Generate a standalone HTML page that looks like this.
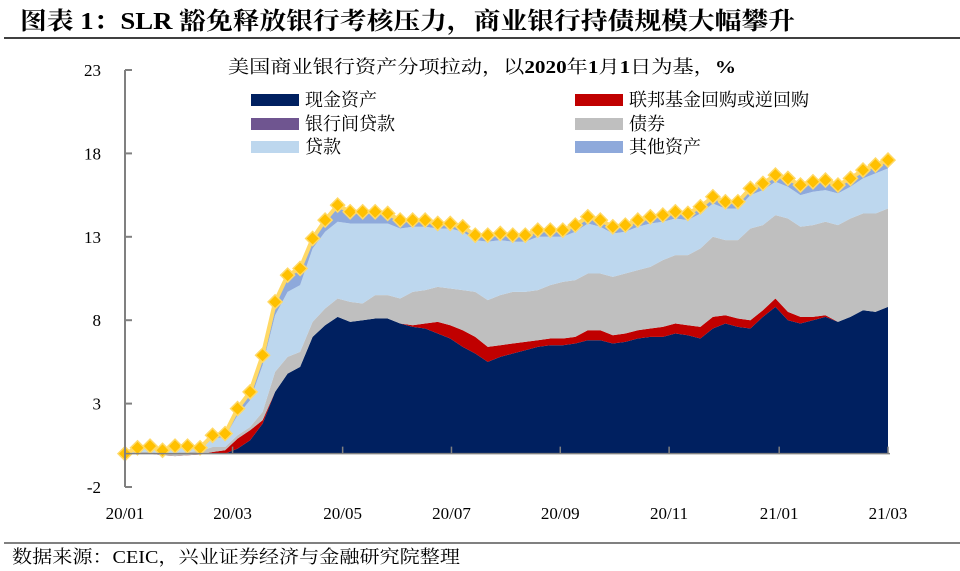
<!DOCTYPE html>
<html><head><meta charset="utf-8">
<style>
body{margin:0;width:960px;height:571px;background:#fff;overflow:hidden;font-family:"Liberation Serif","Noto Serif CJK SC",serif;}
svg{position:absolute;left:0;top:0}
</style></head><body>
<svg width="960" height="571">
<text x="20" y="29" font-size="24" font-weight="bold" fill="#000" textLength="775" lengthAdjust="spacingAndGlyphs">图表 1：SLR 豁免释放银行考核压力，商业银行持债规模大幅攀升</text>
<line x1="4" y1="38" x2="960" y2="38" stroke="#000" stroke-width="1.5"/>
<text x="228" y="73" font-size="18" textLength="508" lengthAdjust="spacingAndGlyphs">美国商业银行资产分项拉动，以<tspan font-weight="bold">2020</tspan>年<tspan font-weight="bold">1</tspan>月<tspan font-weight="bold">1</tspan>日为基，<tspan font-weight="bold">%</tspan></text>
<g id="areas"></g>
<g id="axes"></g>
<g id="legend"></g>
<line x1="4" y1="543" x2="960" y2="543" stroke="#000" stroke-width="1"/>
<text x="12" y="563" font-size="18" textLength="448" lengthAdjust="spacingAndGlyphs">数据来源：CEIC，兴业证券经济与金融研究院整理</text>
</svg>
<script>
const cash=[0,0,0,0,0,0,0,0,0,0.3,0.8,1.8,3.7,4.8,5.2,7.0,7.7,8.2,7.9,8.0,8.1,8.1,7.8,7.6,7.5,7.2,6.9,6.4,6.0,5.5,5.8,6.0,6.2,6.4,6.5,6.5,6.6,6.8,6.8,6.6,6.7,6.9,7.0,7.0,7.2,7.1,6.9,7.5,7.8,7.6,7.5,8.2,8.8,8.0,7.8,8.0,8.2,7.9,8.2,8.6,8.5,8.8];
const repo=[0,0,0,-0.1,-0.15,-0.1,-0.05,0.1,0.2,0.6,0.6,0.2,0,0,0,0,0,0,0,0,0,0,0,0.1,0.3,0.7,0.8,1.0,1.0,0.9,0.7,0.6,0.5,0.4,0.4,0.4,0.4,0.6,0.6,0.5,0.5,0.5,0.5,0.6,0.6,0.6,0.7,0.7,0.5,0.5,0.5,0.4,0.5,0.5,0.4,0.2,0.1,0,0,0,0,0];
const interbank=[0,0,0,0,0,0,0,0,0,0,0,0,0,0,0,0,0,0,0,0,0,0,0,0,0,0,0,0,0,0,0,0,0,0,0,0,0,0,0,0,0,0,0,0,0,0,0,0,0,0,0,0,0,0,0,0,0,0,0,0,0,0];
const bonds=[0,0.1,0.1,0.1,0.2,0.2,0.2,0.3,0.2,0.2,0.2,0.5,1.2,1.0,0.9,0.9,1.0,1.1,1.2,1.0,1.4,1.4,1.5,2.0,2.0,2.1,2.2,2.4,2.7,2.8,3.0,3.1,3.0,3.0,3.2,3.4,3.4,3.4,3.4,3.5,3.6,3.6,3.7,4.0,4.1,4.2,4.7,4.8,4.5,4.7,5.5,5.1,5.0,5.6,5.4,5.5,5.6,5.8,5.9,5.8,5.9,5.9];
const loans=[0,0.2,0.3,0.15,0.35,0.3,0.15,0.5,0.6,1.2,1.6,2.8,3.4,3.9,4.0,4.4,4.6,4.6,4.7,4.8,4.3,4.3,4.2,3.9,3.8,3.5,3.6,3.5,3.1,3.5,3.3,3.0,3.0,3.2,2.9,2.7,2.9,3.0,2.8,2.6,2.5,2.6,2.6,2.3,2.2,2.1,2.1,2.0,1.9,1.9,2.0,2.1,2.0,1.9,1.9,2.0,1.9,1.9,1.9,2.1,2.4,2.4];
const other=[0,0.05,0.05,0.05,0.05,0.05,0.05,0.2,0.2,0.4,0.5,0.6,0.8,1.0,1.0,0.6,0.7,1.0,0.7,0.7,0.7,0.6,0.5,0.4,0.4,0.3,0.3,0.3,0.3,0.4,0.4,0.4,0.4,0.4,0.4,0.4,0.4,0.4,0.4,0.4,0.4,0.4,0.4,0.4,0.4,0.4,0.4,0.4,0.4,0.4,0.4,0.4,0.4,0.5,0.6,0.6,0.6,0.5,0.5,0.5,0.5,0.5];
const total=[0,0.35,0.45,0.2,0.45,0.45,0.35,1.1,1.2,2.7,3.7,5.9,9.1,10.7,11.1,12.9,14.0,14.9,14.5,14.5,14.5,14.4,14.0,14.0,14.0,13.8,13.8,13.6,13.1,13.1,13.2,13.1,13.1,13.4,13.4,13.4,13.7,14.2,14.0,13.6,13.7,14.0,14.2,14.3,14.5,14.4,14.8,15.4,15.1,15.1,15.9,16.2,16.7,16.5,16.1,16.3,16.4,16.1,16.5,17.0,17.3,17.6];
const yTicks=[-2,3,8,13,18,23];
const xTickLabels=["20/01","20/03","20/05","20/07","20/09","20/11","21/01","21/03"];
const xTickIdx=[0,8.6,17.4,26.1,34.8,43.5,52.3,61];

const NS="http://www.w3.org/2000/svg";
const X0=125,X1=888,Y0v=-2,Y1v=23,PY0=487,PY1=70;
const N=total.length;
function xs(i){return X0+(X1-X0)*i/(N-1);}
function ys(v){return PY0-(v-Y0v)/(Y1v-Y0v)*(PY0-PY1);}
function mk(tag,attrs,parent){const e=document.createElementNS(NS,tag);for(const k in attrs)e.setAttribute(k,attrs[k]);parent.appendChild(e);return e;}

const series=[{d:cash,c:"#002060",n:"area-cash"},{d:repo,c:"#C00000",n:"area-repo"},{d:interbank,c:"#7030A0",n:"area-interbank"},{d:bonds,c:"#BFBFBF",n:"area-bonds"},{d:loans,c:"#BDD7EE",n:"area-loans"},{d:other,c:"#8EA9DB",n:"area-other"}];
const areas=document.getElementById('areas');
let base=new Array(N).fill(0);
series.forEach(s=>{
  const top=base.map((b,i)=>b+s.d[i]);
  let p="M"+xs(0)+","+ys(top[0]);
  for(let i=1;i<N;i++)p+="L"+xs(i)+","+ys(top[i]);
  for(let i=N-1;i>=0;i--)p+="L"+xs(i)+","+ys(base[i]);
  p+="Z";
  const el=mk('path',{d:p,fill:s.c},areas);
  
  
  base=top;
});
let lp="";
for(let i=0;i<N;i++)lp+=(i?"L":"M")+xs(i)+","+ys(total[i]);
const ln=mk('path',{d:lp,fill:"none",stroke:"#FFD966","stroke-width":4,"stroke-linejoin":"round"},areas);


for(let i=0;i<N;i++){
  const cx=xs(i),cy=ys(total[i]),r=7;
  const d=mk('polygon',{points:`${cx},${cy-r} ${cx+r},${cy} ${cx},${cy+r} ${cx-r},${cy}`,fill:"#FFC000",stroke:"#FFD966","stroke-width":1.5},areas);
  
  
}
const ax=document.getElementById('axes');
const yl=mk('line',{x1:X0,y1:PY1,x2:X0,y2:PY0,stroke:"#808080","stroke-width":2},ax);


yTicks.forEach(v=>{
  mk('line',{x1:X0,y1:ys(v),x2:X0+7,y2:ys(v),stroke:"#808080","stroke-width":2},ax);
  const t=mk('text',{x:101,y:ys(v)+6,"font-size":17,"text-anchor":"end"},ax);
  t.textContent=v;
  
  
});
const xl=mk('line',{x1:X0,y1:ys(0),x2:X1+2,y2:ys(0),stroke:"#808080","stroke-width":1.5},ax);


xTickLabels.forEach((lab,k)=>{
  const x=xs(xTickIdx[k]);
  mk('line',{x1:x,y1:ys(0),x2:x,y2:ys(0)-7,stroke:"#808080","stroke-width":1.5},ax);
  const t=mk('text',{x:x,y:519,"font-size":17,"text-anchor":"middle"},ax);
  t.textContent=lab;
  
  
});
const lg=document.getElementById('legend');
const items=[["现金资产","#002060",251,100],["联邦基金回购或逆回购","#C00000",575,100],["银行间贷款","#6F5590",251,124],["债券","#BFBFBF",575,124],["贷款","#BDD7EE",251,147],["其他资产","#8EA9DB",575,147]];
items.forEach(it=>{
  mk('rect',{x:it[2],y:it[3]-6,width:48,height:12,fill:it[1]},lg);
  const t=mk('text',{x:it[2]+54,y:it[3]+6,"font-size":18},lg);
  t.textContent=it[0];
  
  
});
</script>
</body></html>
